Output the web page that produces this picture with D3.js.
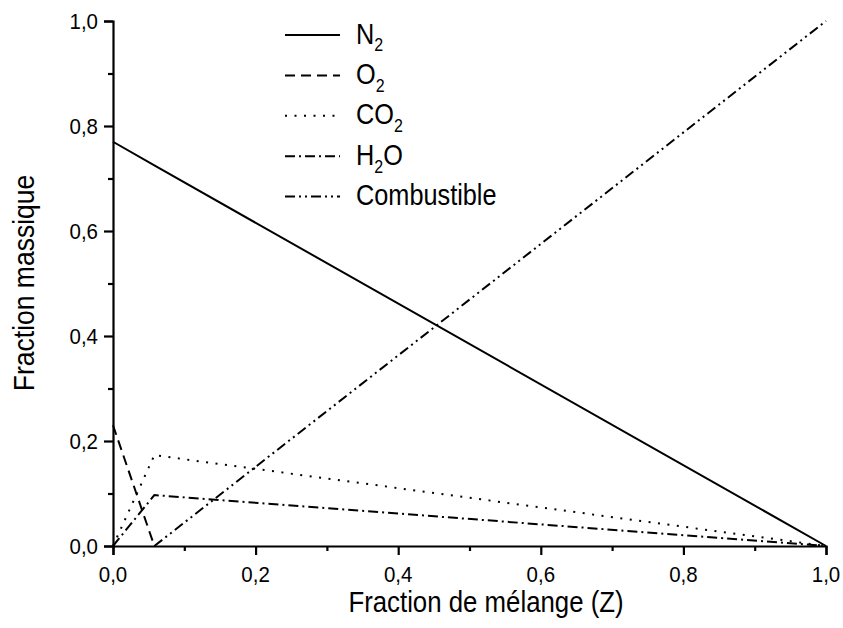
<!DOCTYPE html>
<html>
<head>
<meta charset="utf-8">
<script src="https://cdn.jsdelivr.net/npm/d3@7"></script>
<style>
  html, body { margin: 0; padding: 0; background: #fff; }
  svg { display: block; font-family: "Liberation Sans", Arial, sans-serif; }
</style>
</head>
<body>
<svg id="chart" width="843" height="628"></svg>
<script>
// Mixture fraction breakpoints (lean limit, stoichiometric point, pure fuel)
const mixtureFraction = [0, 0.058, 1];

// Mass fractions of each species at those breakpoints (null = not drawn)
const yN2   = [0.77, 0.725, 0];
const yO2   = [0.23, 0, null];
const yCO2  = [0, 0.173, 0];
const yH2O  = [0, 0.097, 0];
const yFuel = [null, 0, 1];

const speciesLabels = [
  { main: "N", sub: "2", tail: "" },
  { main: "O", sub: "2", tail: "" },
  { main: "CO", sub: "2", tail: "" },
  { main: "H", sub: "2", tail: "O" },
  { main: "Combustible", sub: "", tail: "" }
];
const dashPatterns = ["none", "10,6", "2,7.5", "10,4,2,4", "10,4,2,4,2,4"];
const seriesValues = [yN2, yO2, yCO2, yH2O, yFuel];

const majorTicks = [0, 0.2, 0.4, 0.6, 0.8, 1.0];
const minorTicks = [0.1, 0.3, 0.5, 0.7, 0.9];
const xTitle = "Fraction de mélange (Z)";
const yTitle = "Fraction massique";

const svg = d3.select("#chart");
const plotLeft = 113, plotRight = 826, plotTop = 21, plotBottom = 546;
const vStretch = 1.14;   // glyphs drawn slightly taller than wide

const x = d3.scaleLinear().domain([0, 1]).range([plotLeft, plotRight]);
const y = d3.scaleLinear().domain([0, 1]).range([plotBottom, plotTop]);
const fmt = d => d3.format(".1f")(d).replace(".", ",");

// Series lines
const line = d3.line()
  .defined(d => d[1] !== null)
  .x(d => x(d[0])).y(d => y(d[1]));
seriesValues.forEach((vals, i) => {
  const pts = mixtureFraction.map((z, k) => [z, vals[k]]);
  svg.append("path")
    .attr("d", line(pts))
    .attr("fill", "none")
    .attr("stroke", "#000")
    .attr("stroke-width", 2)
    .attr("stroke-dasharray", dashPatterns[i]);
});

// Axes
const xAxis = d3.axisBottom(x).tickValues(majorTicks).tickSize(9).tickFormat("");
const xMinor = d3.axisBottom(x).tickValues(minorTicks).tickSize(5).tickFormat("");
const yAxis = d3.axisLeft(y).tickValues(majorTicks).tickSize(9).tickFormat("");
const yMinor = d3.axisLeft(y).tickValues(minorTicks).tickSize(5).tickFormat("");

function styleAxis(g) {
  g.select(".domain").attr("stroke", "#000").attr("stroke-width", 2.2);
  g.selectAll(".tick line").attr("stroke", "#000").attr("stroke-width", 2.2);
}
svg.append("g").attr("transform", `translate(0,${plotBottom})`).call(xAxis).call(styleAxis);
svg.append("g").attr("transform", `translate(0,${plotBottom})`).call(xMinor).call(styleAxis)
  .select(".domain").remove();
svg.append("g").attr("transform", `translate(${plotLeft},0)`).call(yAxis).call(styleAxis);
svg.append("g").attr("transform", `translate(${plotLeft},0)`).call(yMinor).call(styleAxis)
  .select(".domain").remove();

// Tick labels
svg.append("g").selectAll("text").data(majorTicks).join("text")
  .attr("transform", d => `translate(${x(d)},582) scale(1,1.06)`)
  .attr("text-anchor", "middle")
  .attr("font-size", 20.5)
  .text(fmt);
svg.append("g").selectAll("text").data(majorTicks).join("text")
  .attr("transform", d => `translate(98,${y(d) + 7.5}) scale(1,1.06)`)
  .attr("text-anchor", "end")
  .attr("font-size", 20.5)
  .text(fmt);

// Axis titles
svg.append("text")
  .attr("transform", `translate(486,612) scale(1,${vStretch})`)
  .attr("text-anchor", "middle")
  .attr("font-size", 25.8)
  .text(xTitle);
svg.append("text")
  .attr("transform", `translate(34,283) rotate(-90) scale(1,${vStretch})`)
  .attr("text-anchor", "middle")
  .attr("font-size", 26.5)
  .text(yTitle);

// Legend
const legend = svg.append("g");
speciesLabels.forEach((lab, i) => {
  const ly = 35 + i * 40.4;
  legend.append("line")
    .attr("x1", 285).attr("x2", 340).attr("y1", ly).attr("y2", ly)
    .attr("stroke", "#000").attr("stroke-width", 2)
    .attr("stroke-dasharray", dashPatterns[i]);
  const t = legend.append("text")
    .attr("transform", `translate(356,${ly + 8.5}) scale(1,${vStretch})`)
    .attr("font-size", 25.3);
  t.append("tspan").text(lab.main);
  if (lab.sub) {
    t.append("tspan").attr("font-size", 16).attr("dy", 7).text(lab.sub);
  }
  if (lab.tail) {
    t.append("tspan").attr("dy", -7).text(lab.tail);
  }
});
</script>
</body>
</html>
